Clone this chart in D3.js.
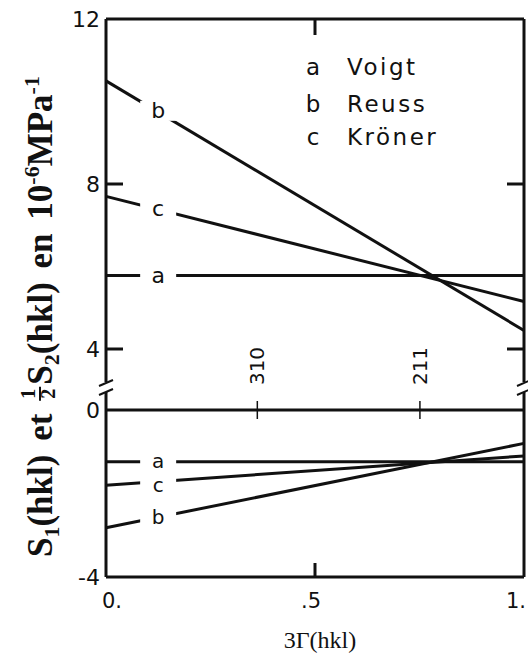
<!DOCTYPE html>
<html><head><meta charset="utf-8">
<script src="https://cdn.jsdelivr.net/npm/d3@7"></script>
<style>body{margin:0;background:#fff}svg{display:block}</style>
</head><body>
<svg id="c" width="528" height="661"></svg>
<script>
// ---- data ----
const xEnds = [0, 1];
const voigtS2 = [5.78, 5.78];
const reussS2 = [10.5, 4.45];
const kronerS2 = [7.7, 5.15];
const voigtS1 = [-1.24, -1.24];
const reussS1 = [-2.82, -0.8];
const kronerS1 = [-1.8, -1.1];
const seriesKeys = ["a", "b", "c", "a", "c", "b"];
const seriesVals = [voigtS2, reussS2, kronerS2, voigtS1, kronerS1, reussS1];
const labelAt = 0.12;
const legendKeys = ["a", "b", "c"];
const legendNames = ["Voigt", "Reuss", "Kröner"];
const yTickValues = [-4, 0, 4, 8, 12];
const yTickLabels = ["-4", "0", "4", "8", "12"];
const xTickValues = [0, 0.5, 1];
const xTickLabels = ["0.", ".5", "1."];
const hklValues = [0.362, 0.751];
const hklLabels = ["310", "211"];

// ---- layout ----
const L = 106, R = 524, T = 19, B = 577;
const x = d3.scaleLinear().domain([0, 1]).range([L, R]);
const y = d3.scaleLinear().domain([-4, 0, 4, 12]).range([B, 410, 349, T]);
const svg = d3.select("#c");
const ink = "#111";
const sans = "'DejaVu Sans', sans-serif";
const serif = "'Liberation Serif', 'Times New Roman', serif";

// series lines
const line = d3.line().x(d => x(d[0])).y(d => y(d[1]));
seriesVals.forEach(v => {
  svg.append("path").attr("d", line(xEnds.map((xx, i) => [xx, v[i]])))
    .attr("fill", "none").attr("stroke", ink).attr("stroke-width", 3);
});

// zero line
svg.append("line").attr("x1", x(0)).attr("x2", x(1)).attr("y1", y(0)).attr("y2", y(0))
  .attr("stroke", ink).attr("stroke-width", 3);
hklValues.forEach((v, i) => {
  svg.append("line").attr("x1", x(v)).attr("x2", x(v)).attr("y1", y(0) - 9).attr("y2", y(0) + 9)
    .attr("stroke", ink).attr("stroke-width", 1.5);
  svg.append("text").attr("transform", `translate(${x(v) + 7},366) rotate(-90)`)
    .attr("text-anchor", "middle").attr("font-family", sans).attr("font-size", 20)
    .attr("fill", ink).text(hklLabels[i]);
});

// labels on lines with white gaps
const labelShift = [0, 0, 0, 0, 4, 0];
const labelSize = [22, 22, 22, 20, 20, 20];
seriesVals.forEach((v, i) => {
  const yy = y(v[0] + (v[1] - v[0]) * labelAt) + labelShift[i];
  const xx = x(labelAt) + 2;
  svg.append("rect").attr("x", xx - 18).attr("y", yy - 10).attr("width", 36).attr("height", 20).attr("fill", "#fff");
  svg.append("text").attr("x", xx).attr("y", yy).attr("dy", "0.33em")
    .attr("text-anchor", "middle").attr("font-family", sans).attr("font-size", labelSize[i])
    .attr("fill", ink).text(seriesKeys[i]);
});

// frame
const frame = svg.append("g").attr("stroke", ink).attr("stroke-width", 3).attr("fill", "none");
frame.append("line").attr("x1", L).attr("x2", R).attr("y1", T).attr("y2", T);
frame.append("line").attr("x1", L).attr("x2", R).attr("y1", B).attr("y2", B);
[L, R].forEach(xx => {
  frame.append("line").attr("x1", xx).attr("x2", xx).attr("y1", T).attr("y2", 382);
  frame.append("line").attr("x1", xx).attr("x2", xx).attr("y1", 392).attr("y2", B);
  [0, 9].forEach(o => frame.append("line").attr("stroke-width", 2)
    .attr("x1", xx - 7).attr("y1", 386 + o).attr("x2", xx + 7).attr("y2", 380 + o));
});

// inward ticks
[8, 4].forEach(v => {
  frame.append("line").attr("x1", L).attr("x2", L + 17).attr("y1", y(v)).attr("y2", y(v));
  frame.append("line").attr("x1", R - 17).attr("x2", R).attr("y1", y(v)).attr("y2", y(v));
});
frame.append("line").attr("x1", x(0.5)).attr("x2", x(0.5)).attr("y1", T).attr("y2", T + 16);
frame.append("line").attr("x1", x(0.5)).attr("x2", x(0.5)).attr("y1", B).attr("y2", B - 14);

// y tick labels
svg.append("g").selectAll("text").data(yTickValues).join("text")
  .attr("x", 100).attr("y", d => y(d)).attr("dy", "0.36em").attr("text-anchor", "end")
  .attr("font-family", sans).attr("font-size", 22).attr("fill", ink)
  .text((d, i) => yTickLabels[i]);

// x tick labels
const xdx = [6, -4, -8];
svg.append("g").selectAll("text").data(xTickValues).join("text")
  .attr("x", (d, i) => x(d) + xdx[i]).attr("y", 608).attr("text-anchor", "middle")
  .attr("font-family", sans).attr("font-size", 21).attr("fill", ink)
  .text((d, i) => xTickLabels[i]);

// legend
const legendY = [75, 112, 145];
legendKeys.forEach((k, i) => {
  svg.append("text").attr("x", 313).attr("y", legendY[i]).attr("text-anchor", "middle")
    .attr("font-family", sans).attr("font-size", 23).attr("fill", ink).text(k);
  svg.append("text").attr("x", 347).attr("y", legendY[i])
    .attr("font-family", sans).attr("font-size", 23).attr("letter-spacing", 2.5).attr("fill", ink).text(legendNames[i]);
});

// x title
svg.append("text").attr("x", 320).attr("y", 648).attr("text-anchor", "middle")
  .attr("font-family", serif).attr("font-size", 24).attr("fill", ink).text("3Γ(hkl)");

// y title (rotated)
const fs = 35, sfs = 22;
const g = svg.append("g").attr("transform", "translate(52,557) rotate(-90)")
  .attr("font-family", serif).attr("font-weight", "bold").attr("fill", ink).attr("font-size", fs);
const p1 = g.append("text").attr("x", 0).attr("y", 0).attr("word-spacing", 5);
p1.append("tspan").text("S");
p1.append("tspan").attr("font-size", sfs).attr("dy", 7).text("1");
p1.append("tspan").attr("dy", -7).text("(hkl) et");
const w1 = p1.node().getComputedTextLength();
const fx = w1 + 20;
g.append("text").attr("x", fx).attr("y", -17).attr("text-anchor", "middle").attr("font-size", 20).text("1");
g.append("line").attr("x1", fx - 7).attr("x2", fx + 7).attr("y1", -12).attr("y2", -12).attr("stroke", ink).attr("stroke-width", 2);
g.append("text").attr("x", fx).attr("y", 3).attr("text-anchor", "middle").attr("font-size", 20).text("2");
const p2 = g.append("text").attr("x", fx + 9).attr("y", 0).attr("word-spacing", 5);
p2.append("tspan").text("S");
p2.append("tspan").attr("font-size", sfs).attr("dy", 7).text("2");
p2.append("tspan").attr("dy", -7).text("(hkl) en 10");
p2.append("tspan").attr("font-size", sfs).attr("dy", -13).text("-6");
p2.append("tspan").attr("dy", 13).text("MPa");
p2.append("tspan").attr("font-size", sfs).attr("dy", -13).text("-1");
</script>
</body></html>
